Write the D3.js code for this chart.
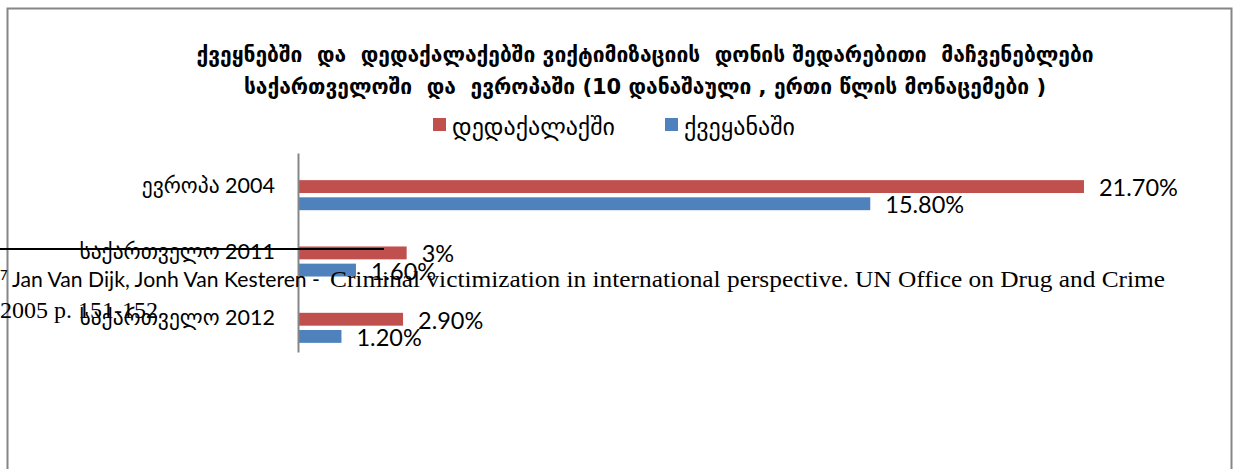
<!DOCTYPE html>
<html>
<head>
<meta charset="utf-8">
<script src="https://cdn.jsdelivr.net/npm/d3@7"></script>
<style>
  html, body { margin: 0; padding: 0; background: #fff; }
  svg text { white-space: pre; }
</style>
</head>
<body>
<svg id="chart" width="1235" height="469"></svg>
<script>
const categories = ["ევროპა 2004", "საქართველო 2011", "საქართველო 2012"];
const seriesNames = ["დედაქალაქში", "ქვეყანაში"];
const capitalValues = [21.7, 3, 2.9];
const countryValues = [15.8, 1.6, 1.2];
const capitalLabels = ["21.70%", "3%", "2.90%"];
const countryLabels = ["15.80%", "1.60%", "1.20%"];
const titleLines = [
  "ქვეყნებში  და  დედაქალაქებში ვიქტიმიზაციის  დონის შედარებითი  მაჩვენებლები",
  "საქართველოში  და  ევროპაში (10 დანაშაული , ერთი წლის მონაცემები )"
];
const footnoteMark = "7";
const footnoteSans = "Jan Van Dijk, Jonh Van Kesteren - ";
const footnoteSerif = "Criminal victimization in international perspective. UN Office on Drug and Crime";
const footnoteLine2 = "2005 p. 151-152";

const colors = ["#C0504D", "#4F81BD"];
const sansFont = "Lato, 'DejaVu Sans', sans-serif";
const geoFont = "'DejaVu Sans', sans-serif";
const serifFont = "'Liberation Serif', 'DejaVu Serif', serif";

const svg = d3.select("#chart");

// outer frame
svg.append("rect")
  .attr("x", 7.5).attr("y", 8.5)
  .attr("width", 1224).attr("height", 480)
  .attr("fill", "#fff").attr("stroke", "#868686").attr("stroke-width", 2);

// title
const title = svg.append("text")
  .attr("text-anchor", "middle")
  .attr("font-family", geoFont)
  .attr("font-weight", "bold")
  .attr("font-size", 21)
  .attr("fill", "#000");
title.selectAll("tspan").data(titleLines).join("tspan")
  .attr("x", 645)
  .attr("y", (d, i) => 62 + i * 32)
  .text(d => d);

// scales
const x = d3.scaleLinear().domain([0, 25]).range([298, 1203.5]);
const y = d3.scaleBand().domain(categories).range([162, 361]).paddingInner(0.547).paddingOuter(0.2735);
const sub = d3.scaleBand().domain([0, 1]).range([0, y.bandwidth()]).paddingInner(0.25);

const rows = categories.map((c, i) => ({
  cat: c,
  vals: [capitalValues[i], countryValues[i]],
  labels: [capitalLabels[i], countryLabels[i]]
}));

const g = svg.append("g");
const rowG = g.selectAll("g.row").data(rows).join("g")
  .attr("class", "row")
  .attr("transform", d => `translate(0,${y(d.cat)})`);

rowG.selectAll("rect").data(d => d.vals.map((v, k) => ({ v, k }))).join("rect")
  .attr("x", x(0))
  .attr("y", d => sub(d.k))
  .attr("width", d => x(d.v) - x(0))
  .attr("height", sub.bandwidth())
  .attr("fill", d => colors[d.k]);

rowG.selectAll("text.val").data(d => d.labels.map((t, k) => ({ t, k, v: d.vals[k] }))).join("text")
  .attr("class", "val")
  .attr("x", d => x(d.v) + 15)
  .attr("y", d => sub(d.k) + sub.bandwidth() / 2 + 9.5)
  .attr("font-family", sansFont)
  .attr("font-size", 23.5)
  .attr("fill", "#000")
  .text(d => d.t);

// category axis
const yAxis = d3.axisLeft(y.copy().range([153, 352])).tickSize(0).tickPadding(0);
const ax = svg.append("g").attr("transform", `translate(${x(0)},0)`).call(yAxis);
ax.select(".domain").attr("stroke", "#868686").attr("stroke-width", 2);
ax.selectAll(".tick text").remove();

// category labels
svg.append("g").selectAll("text").data(rows).join("text")
  .attr("x", 275)
  .attr("y", d => y(d.cat) + sub.bandwidth() - 0.5)
  .attr("text-anchor", "end")
  .attr("font-family", sansFont)
  .attr("font-size", 21.5)
  .attr("fill", "#000")
  .text(d => d.cat);

// legend
const legendX = [433, 665];
const lg = svg.append("g").selectAll("g").data(seriesNames).join("g")
  .attr("transform", (d, i) => `translate(${legendX[i]},118)`);
lg.append("rect").attr("width", 13).attr("height", 13).attr("fill", (d, i) => colors[i]);
lg.append("text")
  .attr("x", 19).attr("y", 17)
  .attr("font-family", geoFont)
  .attr("font-size", 24)
  .attr("fill", "#000")
  .text(d => d);

// footnote overlay
svg.append("line")
  .attr("x1", 0).attr("x2", 384).attr("y1", 249).attr("y2", 249)
  .attr("stroke", "#000").attr("stroke-width", 2);

svg.append("text")
  .attr("x", 0).attr("y", 280)
  .attr("font-family", sansFont).attr("font-size", 13)
  .text(footnoteMark);

svg.append("text")
  .attr("x", 12).attr("y", 287)
  .attr("font-family", sansFont).attr("font-size", 22)
  .attr("textLength", 308).attr("lengthAdjust", "spacingAndGlyphs")
  .attr("fill", "#000")
  .text(footnoteSans.trim());

svg.append("text")
  .attr("x", 330).attr("y", 287)
  .attr("font-family", serifFont).attr("font-size", 24)
  .attr("textLength", 835).attr("lengthAdjust", "spacingAndGlyphs")
  .attr("fill", "#000")
  .text(footnoteSerif);

svg.append("text")
  .attr("x", 0).attr("y", 318)
  .attr("font-family", serifFont).attr("font-size", 24)
  .attr("fill", "#000")
  .text(footnoteLine2);
</script>
</body>
</html>
